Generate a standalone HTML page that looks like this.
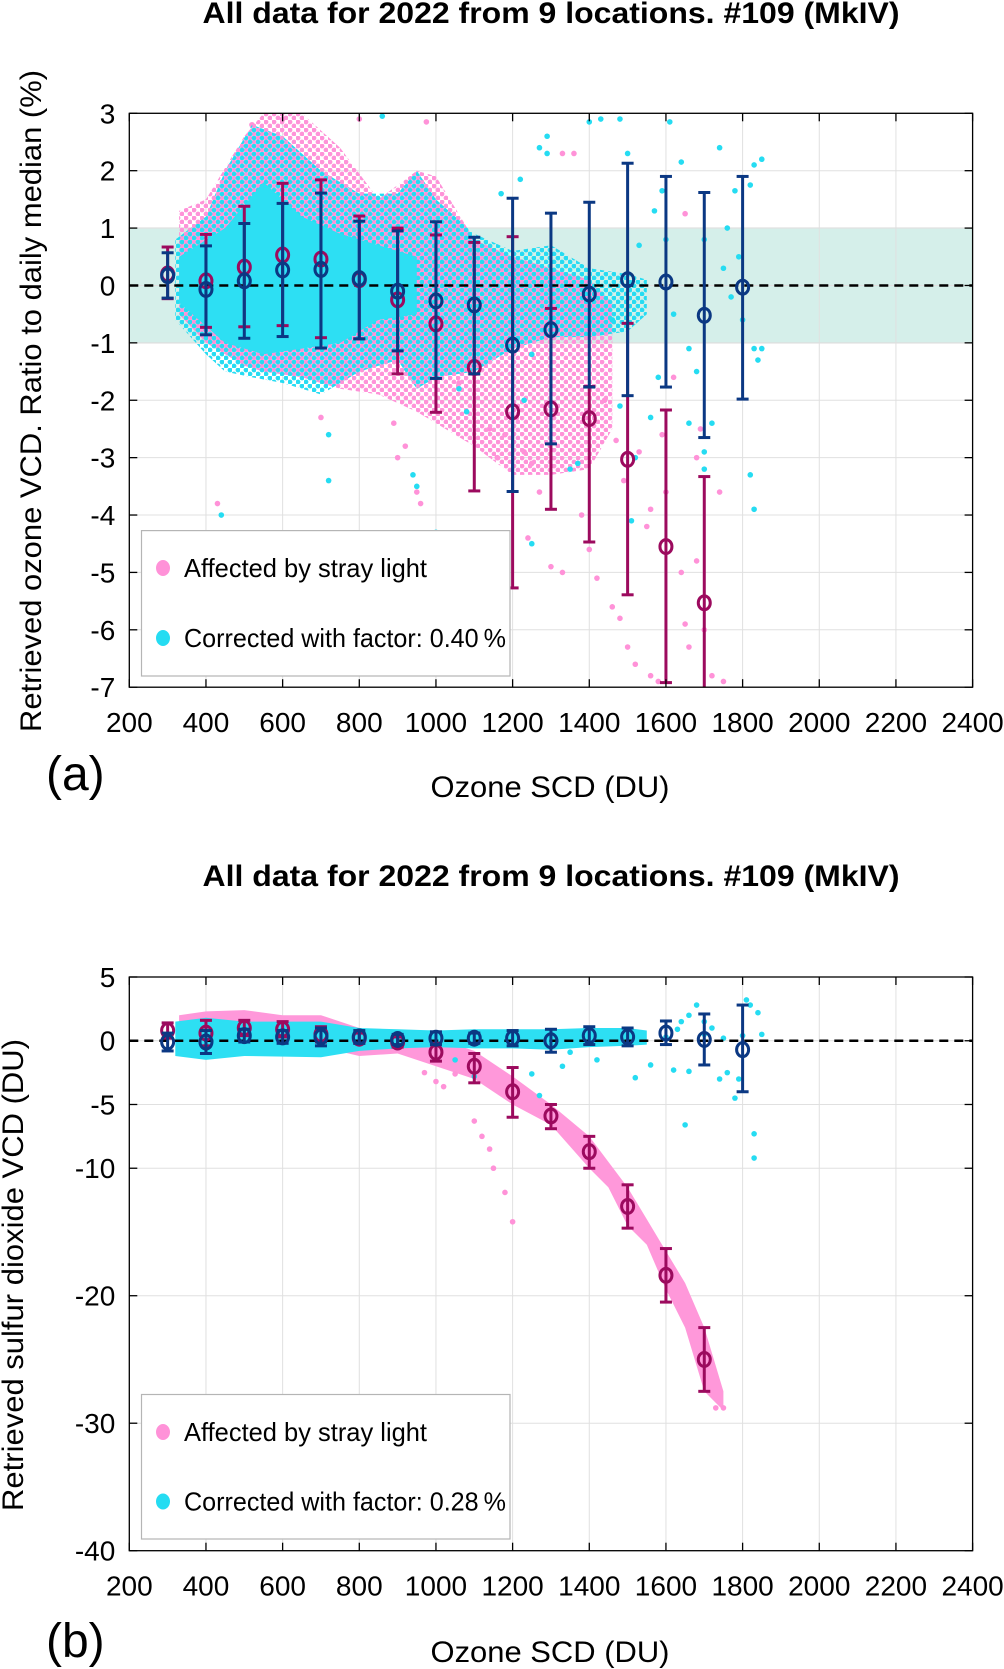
<!DOCTYPE html>
<html><head><meta charset="utf-8"><style>
html,body{margin:0;padding:0;background:#fff;}
svg{display:block;font-family:"Liberation Sans",sans-serif;}
</style></head><body>
<svg id="fig" width="1004" height="1669" viewBox="0 0 1004 1669" xmlns="http://www.w3.org/2000/svg">
<defs>
<pattern id="pPink" width="8" height="8" patternUnits="userSpaceOnUse"><circle cx="2" cy="2" r="2.4" fill="#ff92d8"/><circle cx="6" cy="6" r="2.4" fill="#ff92d8"/></pattern>
<pattern id="pCyan" width="8" height="8" patternUnits="userSpaceOnUse"><circle cx="2" cy="6" r="2.4" fill="#25dcf2"/><circle cx="6" cy="2" r="2.4" fill="#25dcf2"/></pattern>
<clipPath id="clipA"><rect x="129" y="113" width="844" height="574"/></clipPath>
<clipPath id="clipB"><rect x="129" y="977" width="844" height="574"/></clipPath>
</defs>
</svg>
<script>
// ---------- data ----------
const xTicks = [200,400,600,800,1000,1200,1400,1600,1800,2000,2200,2400];
const yTicksA = [3,2,1,0,-1,-2,-3,-4,-5,-6,-7];
const yTicksB = [5,0,-5,-10,-20,-30,-40];

const binsA_aff = [300,400,500,600,700,800,900,1000,1100,1200,1300,1400,1500,1600,1700];
const medA_aff = [0.2,0.08,0.32,0.53,0.46,0.1,-0.25,-0.67,-1.43,-2.2,-2.15,-2.32,-3.03,-4.55,-5.53];
const hiA_aff = [0.67,0.89,1.38,1.78,1.84,1.21,1.0,0.88,0.75,0.85,-0.4,-1.76,-0.66,-2.17,-3.33];
const loA_aff = [-0.23,-0.73,-0.72,-0.7,-0.91,-0.93,-1.54,-2.21,-3.58,-5.27,-3.9,-4.47,-5.39,-6.92,-7.5];

const binsA_cor = [300,400,500,600,700,800,900,1000,1100,1200,1300,1400,1500,1600,1700,1800];
const medA_cor = [0.17,-0.07,0.08,0.27,0.28,0.12,-0.1,-0.27,-0.34,-1.04,-0.77,-0.15,0.1,0.06,-0.52,-0.03];
const hiA_cor = [0.57,0.69,1.08,1.43,1.61,1.12,0.95,1.11,0.84,1.52,1.26,1.45,2.13,1.9,1.62,1.9];
const loA_cor = [-0.22,-0.86,-0.92,-0.89,-1.09,-0.93,-1.14,-1.62,-1.54,-3.59,-2.76,-1.77,-1.92,-1.77,-2.65,-1.98];

const binsB_aff = [300,400,500,600,700,800,900,1000,1100,1200,1300,1400,1500,1600,1700];
const medB_aff = [0.8,0.6,1.0,0.9,0.5,0.2,-0.1,-0.9,-2.0,-4.0,-5.9,-8.7,-13.0,-18.4,-25.0];
const hiB_aff = [1.4,1.6,1.6,1.5,1.1,0.6,0.3,-0.2,-1.0,-2.1,-5.0,-7.5,-11.3,-16.3,-22.5];
const loB_aff = [0.2,-0.4,0.4,0.3,-0.1,-0.2,-0.5,-1.6,-3.3,-6.0,-6.9,-10.0,-14.7,-20.5,-27.5];

const binsB_cor = [300,400,500,600,700,800,900,1000,1100,1200,1300,1400,1500,1600,1700,1800];
const medB_cor = [-0.1,-0.1,0.4,0.3,0.3,0.3,0.1,0.2,0.2,0.2,0.0,0.4,0.3,0.6,0.1,-0.7];
const hiB_cor = [0.6,0.8,0.9,0.8,1.0,0.8,0.5,0.7,0.6,0.8,0.9,1.1,1.0,1.55,2.1,2.8];
const loB_cor = [-0.8,-1.0,-0.1,-0.2,-0.4,-0.2,-0.3,-0.3,-0.2,-0.4,-0.9,-0.3,-0.4,-0.3,-1.9,-4.0];

const envA_aff_x = [330,400,500,550,650,750,850,950,1000,1100,1200,1300,1400,1460];
const envA_aff_lo = [-0.5,-1.0,-1.4,-1.5,-1.6,-1.8,-1.9,-2.2,-2.4,-2.8,-3.3,-3.3,-3.2,-2.5];
const envA_aff_hi = [1.3,1.5,2.6,3.0,3.0,2.4,1.5,2.0,1.9,0.8,0.5,0.3,0.1,-0.3];
const envA_cor_x = [320,400,450,520,600,700,800,900,950,1000,1100,1200,1300,1400,1500,1550];
const envA_cor_lo = [-0.6,-1.2,-1.5,-1.6,-1.7,-1.9,-1.5,-1.3,-1.8,-1.6,-1.5,-1.1,-0.9,-0.9,-0.8,-0.5];
const envA_cor_hi = [0.8,1.2,2.0,2.8,2.6,2.0,1.6,1.6,2.0,1.5,0.9,0.6,0.7,0.3,0.2,0.1];
const coreA_x = [330,450,550,650,750,850,950];
const coreA_lo = [-0.3,-1.0,-1.2,-1.1,-1.0,-0.6,-0.5];
const coreA_hi = [0.5,1.0,1.8,1.2,0.9,0.7,0.5];

const outA_aff_x = [520,600,800,975,1330,1360,1650,1620,1060,1250,1270,1240,1300,1330,1400,1380,1420,1460,1480,1500,1520,1560,1580,1550,1560,1600,1640,1650,1660,1680,1700,1720,1740,1470,1490,1530,1590,1440,1140,1160,1180,1210,1230,890,920,950,960,900,700,430,1750,1690,1680];
const outA_aff_y = [2.8,2.9,2.9,2.85,2.3,2.3,1.25,-1.6,-1.7,-3.1,-3.6,-4.4,-4.9,-5.0,-4.6,-4.0,-5.1,-5.6,-5.8,-6.3,-6.6,-6.8,-6.9,-4.2,-3.9,-3.6,-5.0,-5.9,-6.3,-4.8,-6.0,-6.8,-3.6,-2.7,-3.4,-2.9,-2.6,-2.0,-2.5,-3.0,-2.6,-2.3,-2.9,-2.4,-2.8,-3.6,-3.8,-3.0,-2.3,-3.8,-6.9,-2.5,-3.0];
const outA_cor_x = [440,720,720,860,1000,1250,1270,1290,1290,1400,1430,1480,1500,1610,1640,1740,1780,1820,1830,1850,1830,1840,1850,1820,1830,1720,1700,1700,1660,1680,1660,1560,1580,1510,1520,1480,1460,1590,1570,1530,1750,1770,1790,1370,1350,1250,1230,1170,1220,940,950,1080,1060,1600,1620,1700,1800,1760];
const outA_cor_y = [-4.0,-2.6,-3.4,2.95,-4.3,-4.5,2.4,2.3,2.6,2.85,2.9,2.9,2.3,2.85,2.15,2.4,1.65,1.75,2.1,2.2,-1.1,-1.3,-1.1,-3.3,-3.9,-2.4,-3.2,-2.9,-1.1,-1.5,-2.4,-2.3,-1.6,-4.1,-3.0,-2.1,-0.6,1.65,1.3,0.7,0.3,-0.2,0.5,-3.1,-3.2,-1.2,-2.0,1.6,1.85,-3.3,-3.5,-2.2,-1.8,0.8,-0.5,0.8,-0.6,1.0];

const envB_aff_x = [330,400,500,600,700,800,900,1000,1100,1200,1300,1400,1450,1500,1550,1600,1650,1700,1750];
const envB_aff_lo = [-0.5,-0.8,-0.5,-0.5,-0.5,-1.2,-1.0,-2.0,-3.0,-5.0,-6.6,-10.0,-11.5,-14.5,-16.0,-19.5,-22.5,-27.5,-29.0];
const envB_aff_hi = [2.0,2.3,2.4,2.0,2.0,1.0,0.6,0.2,-0.8,-2.8,-5.0,-7.5,-9.5,-11.5,-14.0,-16.5,-19.0,-22.5,-27.5];
const envB_cor_x = [320,400,500,700,800,900,1000,1100,1200,1300,1400,1500,1550];
const envB_cor_lo = [-1.2,-1.5,-1.2,-1.3,-0.8,-0.6,-0.5,-0.6,-0.6,-0.7,-0.5,-0.4,-0.3];
const envB_cor_hi = [1.5,1.8,1.5,1.5,1.0,0.9,0.8,0.9,0.9,0.9,1.0,1.0,0.8];
const outB_aff_x = [970,1000,1020,1100,1120,1140,1150,1180,1200,1050,1730,1750];
const outB_aff_y = [-2.5,-3.2,-3.6,-6.3,-7.5,-8.5,-10,-11.9,-14.2,-2.6,-28.8,-28.8];
const outB_cor_x = [1640,1660,1680,1700,1720,1740,1760,1780,1790,1810,1820,1830,1830,1840,1850,1650,1620,1660,1560,1520,1330,1250,1270,1100,1050,1420,1350,1700,1750,1800,1600,1630];
const outB_cor_y = [1.5,2.0,2.8,1.5,1.0,-3.0,-2.5,-4.5,-3.0,3.2,2.8,-7.3,-9.2,2.2,0.5,-6.6,-2.3,-2.4,-1.9,-2.9,-2.0,-2.6,-4.3,-2.8,-1.5,-1.5,-0.9,0.5,0.2,0.4,0.3,0.9];

// ---------- drawing ----------
const NS = 'http://www.w3.org/2000/svg';
const svg = document.getElementById('fig');
function mk(tag, attrs, parent){
  const e = document.createElementNS(NS, tag);
  for (const k in attrs) e.setAttribute(k, attrs[k]);
  (parent||svg).appendChild(e);
  return e;
}
const X0 = 129.3, X1 = 972.6;
function sx(v){ return X0 + (v-200)/(2400-200)*(X1-X0); }

function panel(cfg){
  const sy = v => cfg.top + (cfg.ymax - v)/(cfg.ymax - cfg.ymin)*(cfg.bottom - cfg.top);
  const g = mk('g', {});
  
  
  const t = mk('text', {x:551, y:cfg.titleY, 'font-size':30, 'font-weight':'bold', 'text-anchor':'middle', textLength:697, lengthAdjust:'spacingAndGlyphs'}, g);
  t.textContent = 'All data for 2022 from 9 locations. #109 (MkIV)';
  
  
  mk('rect', {x:X0, y:cfg.top, width:X1-X0, height:cfg.bottom-cfg.top, fill:'#fff'}, g);
  if (cfg.band){
    const b = mk('rect', {x:X0, y:sy(1), width:X1-X0, height:sy(-1)-sy(1), fill:'#d5efea', stroke:'#9a9a9a', 'stroke-width':0.8}, g);
    
    
  }
  xTicks.forEach(v => mk('line', {x1:sx(v), x2:sx(v), y1:cfg.top, y2:cfg.bottom, stroke:'#e0e0e0', 'stroke-width':1}, g));
  cfg.yTicks.forEach(v => mk('line', {x1:X0, x2:X1, y1:sy(v), y2:sy(v), stroke:'#e0e0e0', 'stroke-width':1}, g));
  const sc = mk('g', {'clip-path':`url(#${cfg.clip})`}, g);
  function env(xs, lo, hi, fill, name){
    let d = xs.map((x,i)=>(i?'L':'M')+sx(x).toFixed(1)+','+sy(hi[i]).toFixed(1)).join('');
    for (let i=xs.length-1;i>=0;i--) d += 'L'+sx(xs[i]).toFixed(1)+','+sy(lo[i]).toFixed(1);
    const p = mk('path', {d:d+'Z', fill:fill}, sc);
    
    
  }
  function pts(xs, ys, col, name){
    xs.forEach((x,i)=>{
      const c = mk('circle', {cx:sx(x), cy:sy(ys[i]), r:2.8, fill:col}, sc);
      
      
    });
  }
  env(cfg.envAff[0], cfg.envAff[1], cfg.envAff[2], cfg.affSolid ? '#ff98da' : 'url(#pPink)', 'affected-cloud');
  pts(cfg.outAff[0], cfg.outAff[1], '#ff92d8', 'affected-point');
  env(cfg.envCor[0], cfg.envCor[1], cfg.envCor[2], cfg.corSolid ? '#2ddff3' : 'url(#pCyan)', 'corrected-cloud');
  if (cfg.core) env(cfg.core[0], cfg.core[1], cfg.core[2], '#2ddff3', 'corrected-dense-core');
  pts(cfg.outCor[0], cfg.outCor[1], '#25dcf2', 'corrected-point');
  const z = mk('line', {x1:X0, x2:X1, y1:sy(0), y2:sy(0), stroke:'#000', 'stroke-width':2.5, 'stroke-dasharray':'9,6'}, g);
  
  
  function errs(bins, med, hi, lo, col, name){
    const eg = mk('g', {'clip-path':`url(#${cfg.clip})`}, g);
    bins.forEach((x,i)=>{
      const px = sx(x);
      const bar = mk('g', {}, eg);
      
      
      mk('line', {x1:px, x2:px, y1:sy(hi[i]), y2:sy(lo[i]), stroke:col, 'stroke-width':3}, bar);
      mk('line', {x1:px-6, x2:px+6, y1:sy(hi[i]), y2:sy(hi[i]), stroke:col, 'stroke-width':3}, bar);
      mk('line', {x1:px-6, x2:px+6, y1:sy(lo[i]), y2:sy(lo[i]), stroke:col, 'stroke-width':3}, bar);
      mk('ellipse', {cx:px, cy:sy(med[i]), rx:6, ry:7, fill:'none', stroke:col, 'stroke-width':3}, bar);
    });
  }
  errs(cfg.eAff[0], cfg.eAff[1], cfg.eAff[2], cfg.eAff[3], '#9c0a5e', 'affected-median-errorbar');
  errs(cfg.eCor[0], cfg.eCor[1], cfg.eCor[2], cfg.eCor[3], '#0b3883', 'corrected-median-errorbar');
  mk('rect', {x:X0, y:cfg.top, width:X1-X0, height:cfg.bottom-cfg.top, fill:'none', stroke:'#000', 'stroke-width':1.3}, g);
  xTicks.forEach(v=>{
    mk('line', {x1:sx(v), x2:sx(v), y1:cfg.bottom, y2:cfg.bottom-8, stroke:'#000', 'stroke-width':1.3}, g);
    mk('line', {x1:sx(v), x2:sx(v), y1:cfg.top, y2:cfg.top+8, stroke:'#000', 'stroke-width':1.3}, g);
    const tl = mk('text', {x:sx(v), y:cfg.bottom+45, 'font-size':28, 'text-anchor':'middle'}, g);
    tl.textContent = v;
    
    
  });
  cfg.yTicks.forEach(v=>{
    mk('line', {x1:X0, x2:X0+8, y1:sy(v), y2:sy(v), stroke:'#000', 'stroke-width':1.3}, g);
    mk('line', {x1:X1, x2:X1-8, y1:sy(v), y2:sy(v), stroke:'#000', 'stroke-width':1.3}, g);
    const tl = mk('text', {x:X0-14, y:sy(v)+10, 'font-size':28, 'text-anchor':'end'}, g);
    tl.textContent = v;
    
    
  });
  const xt = mk('text', {x:550, y:cfg.xTitleY, 'font-size':30, 'text-anchor':'middle', textLength:239, lengthAdjust:'spacingAndGlyphs'}, g);
  xt.textContent = 'Ozone SCD (DU)';
  
  
  const yt = mk('text', {x:0, y:0, 'font-size':30, 'text-anchor':'middle', textLength:cfg.yTitleLen, lengthAdjust:'spacingAndGlyphs', transform:`translate(${cfg.yTitleX},${cfg.yTitleCY}) rotate(-90)`}, g);
  yt.textContent = cfg.yTitle;
  
  
  const pl = mk('text', {x:46, y:cfg.labelY, 'font-size':48}, g);
  pl.textContent = cfg.label;
  
  
  const lg = mk('g', {}, g);
  
  
  mk('rect', {x:141.5, y:cfg.legTop, width:368.5, height:cfg.legH, fill:'#fff', stroke:'#b5b5b5', 'stroke-width':1.2}, lg);
  const e1 = mk('g', {}, lg);
  
  
  mk('ellipse', {cx:163, cy:cfg.leg1, rx:7, ry:8, fill:'#ff92d8'}, e1);
  const l1 = mk('text', {x:184, y:cfg.leg1+9, 'font-size':26, textLength:243, lengthAdjust:'spacingAndGlyphs'}, e1);
  l1.textContent = 'Affected by stray light';
  const e2 = mk('g', {}, lg);
  
  
  mk('ellipse', {cx:163, cy:cfg.leg2, rx:7, ry:8, fill:'#25dcf2'}, e2);
  const l2 = mk('text', {x:184, y:cfg.leg2+9, 'font-size':26, textLength:322, lengthAdjust:'spacingAndGlyphs'}, e2);
  l2.textContent = 'Corrected with factor: ' + cfg.factor + '\u2009%';
}

panel({
  name:'panel-a-ozone', top:113.3, bottom:687.2, ymax:3, ymin:-7, yTicks:yTicksA, band:true, clip:'clipA',
  titleY:23, xTitleY:797, yTitleX:41, yTitleCY:401, yTitleLen:662, labelY:790, label:'(a)',
  yTitle:'Retrieved ozone VCD. Ratio to daily median (%)',
  envAff:[envA_aff_x, envA_aff_lo, envA_aff_hi], envCor:[envA_cor_x, envA_cor_lo, envA_cor_hi],
  core:[coreA_x, coreA_lo, coreA_hi], outAff:[outA_aff_x, outA_aff_y], outCor:[outA_cor_x, outA_cor_y],
  eAff:[binsA_aff, medA_aff, hiA_aff, loA_aff], eCor:[binsA_cor, medA_cor, hiA_cor, loA_cor],
  legTop:530.6, legH:145.4, leg1:568, leg2:638, factor:'0.40'
});
panel({
  name:'panel-b-so2', top:977, bottom:1550.7, ymax:5, ymin:-40, yTicks:yTicksB, band:false, clip:'clipB',
  titleY:886, xTitleY:1662, yTitleX:23, yTitleCY:1275, yTitleLen:472, labelY:1657, label:'(b)',
  yTitle:'Retrieved sulfur dioxide VCD (DU)', affSolid:true, corSolid:true,
  envAff:[envB_aff_x, envB_aff_lo, envB_aff_hi], envCor:[envB_cor_x, envB_cor_lo, envB_cor_hi],
  core:null, outAff:[outB_aff_x, outB_aff_y], outCor:[outB_cor_x, outB_cor_y],
  eAff:[binsB_aff, medB_aff, hiB_aff, loB_aff], eCor:[binsB_cor, medB_cor, hiB_cor, loB_cor],
  legTop:1394.5, legH:144.5, leg1:1432, leg2:1501.5, factor:'0.28'
});
</script>
</body></html>
